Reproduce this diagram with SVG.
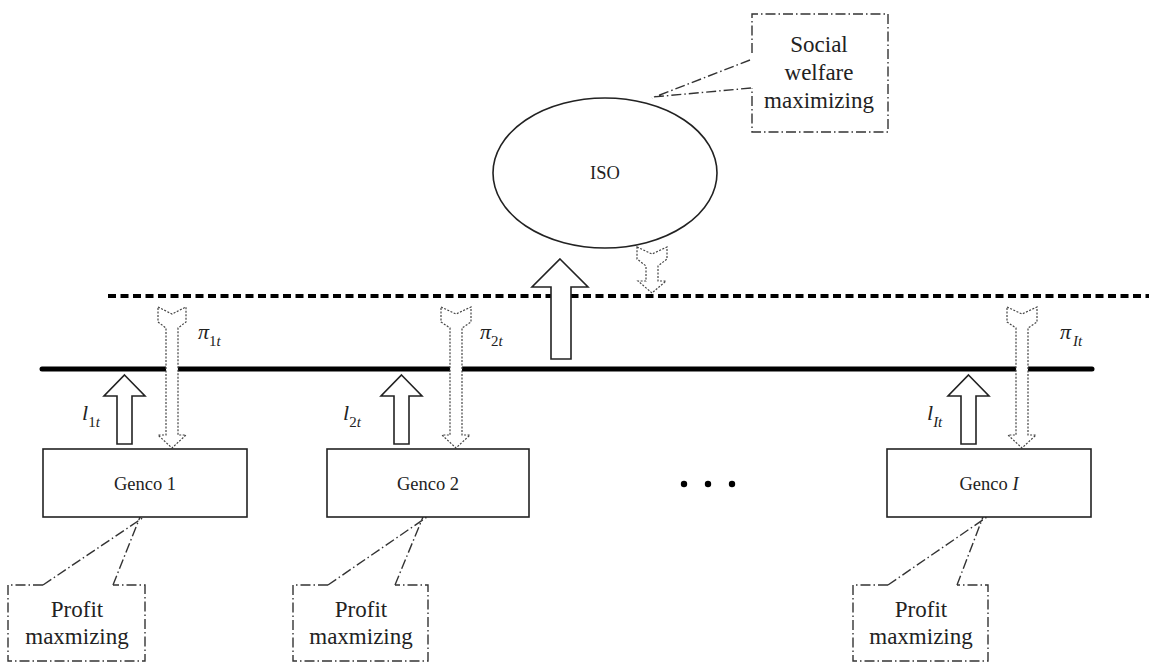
<svg xmlns="http://www.w3.org/2000/svg" width="1149" height="664" viewBox="0 0 1149 664">
<style>
text{font-family:"Liberation Serif","Times New Roman",serif;fill:#222}
.lbl{font-size:18.5px;text-anchor:middle}
.big{font-size:23px;text-anchor:middle}
.box{fill:#fff;stroke:#222;stroke-width:1.6}
.call{fill:none;stroke:#333;stroke-width:1.4;stroke-dasharray:10 3 1.5 3}
.up{fill:#fff;stroke:#222;stroke-width:1.6;stroke-linejoin:miter}
.dn{fill:#fff;stroke:#444;stroke-width:1.2;stroke-dasharray:2 1.5}
.m{font-style:italic;font-size:22px}
.s{font-size:15px}
</style>
<rect width="1149" height="664" fill="#fff"/>
<g id="connectors">
<line x1="108" y1="296" x2="1149" y2="296" stroke="#000" stroke-width="4" stroke-dasharray="8 4.5"/>
<line x1="42" y1="369" x2="1092" y2="369" stroke="#000" stroke-width="5" stroke-linecap="round"/>
<path class="up" d="M560,259 L588,287 L571,287 L571,359 L551,359 L551,287 L532,287 Z"/>
<path class="dn" d="M637,247 L652,254 L667,247 L667,259 L658,266 L658,281 L666,281 L652,293 L638,281 L646,281 L646,266 L637,259 Z"/>
<path class="up" d="M124.5,375 L145,396 L132,396 L132,444 L117,444 L117,396 L104,396 Z"/>
<path class="up" d="M401.5,375 L422,396 L409,396 L409,444 L394,444 L394,396 L381,396 Z"/>
<path class="up" d="M968.5,375 L989,396 L976,396 L976,444 L961,444 L961,396 L948,396 Z"/>
<path class="dn" d="M158,307 L172,314 L186,307 L186,322 L178,328 L178,435 L186,435 L172,448 L158,435 L166,435 L166,328 L158,322 Z"/>
<path class="dn" d="M441,307 L456,314 L471,307 L471,322 L462,328 L462,435 L470,435 L456,448 L442,435 L450,435 L450,328 L441,322 Z"/>
<path class="dn" d="M1007,307 L1022,314 L1037,307 L1037,322 L1028,328 L1028,435 L1036,435 L1022,448 L1008,435 L1016,435 L1016,328 L1007,322 Z"/>
<path class="call" d="M750,60 L652,98 M751,88 L653,97"/>
<path class="call" d="M43,585 L144,517 M113,585 L140,517"/>
<path class="call" d="M328,585 L427,517 M395,585 L423,517"/>
<path class="call" d="M888,585 L987,517 M957,585 L983,517"/>
</g>
<g id="iso">
<ellipse cx="605" cy="173" rx="112" ry="75" fill="none" stroke="#222" stroke-width="1.6"/>
<text class="lbl" x="605" y="179">ISO</text>
</g>
<g id="social">
<path class="call" d="M752,53 L752,14 L888,14 L888,132 L752,132 L752,88"/>
<text class="big" x="819" y="52">Social</text>
<text class="big" x="819" y="80">welfare</text>
<text class="big" x="819" y="108">maximizing</text>
</g>
<g id="genco1">
<rect class="box" x="43" y="449" width="204" height="68"/>
<text class="lbl" x="145" y="490">Genco 1</text>
</g>
<g id="genco2">
<rect class="box" x="327" y="449" width="202" height="68"/>
<text class="lbl" x="428" y="490">Genco 2</text>
</g>
<g id="gencoI">
<rect class="box" x="887" y="449" width="204" height="68"/>
<text class="lbl" x="989" y="490">Genco <tspan font-style="italic">I</tspan></text>
</g>
<g id="dots" fill="#000">
<circle cx="684" cy="484" r="3.2"/>
<circle cx="708" cy="484" r="3.2"/>
<circle cx="732" cy="484" r="3.2"/>
</g>
<g id="profit1">
<path class="call" d="M43,585 L8,585 L8,661 L145,661 L145,585 L113,585"/>
<text class="big" x="77" y="617">Profit</text>
<text class="big" x="77" y="644">maxmizing</text>
</g>
<g id="profit2">
<path class="call" d="M328,585 L293,585 L293,661 L428,661 L428,585 L395,585"/>
<text class="big" x="361" y="617">Profit</text>
<text class="big" x="361" y="644">maxmizing</text>
</g>
<g id="profitI">
<path class="call" d="M888,585 L853,585 L853,661 L988,661 L988,585 L957,585"/>
<text class="big" x="921" y="617">Profit</text>
<text class="big" x="921" y="644">maxmizing</text>
</g>
<g id="labels">
<text x="198" y="339"><tspan class="m">π</tspan><tspan class="s" dy="7">1<tspan font-style="italic">t</tspan></tspan></text>
<text x="480" y="339"><tspan class="m">π</tspan><tspan class="s" dy="7">2<tspan font-style="italic">t</tspan></tspan></text>
<text x="1060" y="339"><tspan class="m">π</tspan><tspan class="s" dy="7" dx="2" font-style="italic">It</tspan></text>
<text x="82" y="420"><tspan class="m">l</tspan><tspan class="s" dy="7">1<tspan font-style="italic">t</tspan></tspan></text>
<text x="343" y="420"><tspan class="m">l</tspan><tspan class="s" dy="7">2<tspan font-style="italic">t</tspan></tspan></text>
<text x="927" y="420"><tspan class="m">l</tspan><tspan class="s" dy="7" font-style="italic">It</tspan></text>
</g>
</svg>
